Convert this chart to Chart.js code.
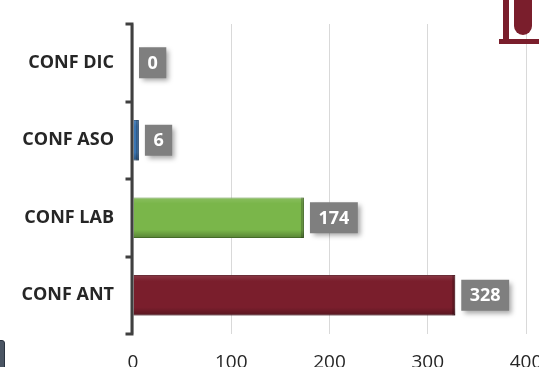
<!DOCTYPE html>
<html lang="en">
<head>
    <meta charset="UTF-8">
    <title>Conflictos</title>
    <script src="https://cdn.jsdelivr.net/npm/chart.js"></script>
    <style>
        body {
            margin: 0;
            width: 539px;
            height: 367px;
            overflow: hidden;
            background: #ffffff;
            position: relative;
        }
        #chart {
            position: absolute;
            left: 0;
            top: 0;
        }
        /* decoration in the corners of the slide */
        .deco { position: absolute; background: #7a1e2c; }
    </style>
</head>
<body>
    <canvas id="chart" width="539" height="367"></canvas>

    <div class="deco" style="left:499px; top:39px; width:40px; height:5px;"></div>
    <div class="deco" style="left:503px; top:0; width:6px; height:40px;"></div>
    <div class="deco" style="left:514px; top:0; width:18px; height:35px; border-radius:0 0 9px 9px;"></div>
    <div style="position:absolute; left:-3px; top:340px; width:6px; height:30px; border:1px solid #2a3340; border-radius:3px; background:#4a5563;"></div>

    <script>
        // data
        const categories = ['CONF DIC', 'CONF ASO', 'CONF LAB', 'CONF ANT'];
        const values = [0, 6, 174, 328];
        const barColors = ['#3b77b5', '#3b77b5', '#7ab64a', '#7a1e2c'];
        const barBorders = ['#2c5a8a', '#2c5a8a', '#5a8c34', '#5a1520'];
        const xTicks = [0, 100, 200, 300, 400];

        // darker bevel on the lower and right edge of each bar
        const bevel = {
            id: 'bevel',
            afterDatasetsDraw(chart) {
                const ctx = chart.ctx;
                const meta = chart.getDatasetMeta(0);
                ctx.save();
                meta.data.forEach((bar) => {
                    const w = bar.x - bar.base;
                    if (w < 1) return;
                    const top = bar.y - bar.height / 2;
                    const g = ctx.createLinearGradient(0, top, 0, top + bar.height);
                    g.addColorStop(0, 'rgba(255,255,255,0.12)');
                    g.addColorStop(0.15, 'rgba(255,255,255,0)');
                    g.addColorStop(0.8, 'rgba(0,0,0,0)');
                    g.addColorStop(1, 'rgba(0,0,0,0.28)');
                    ctx.fillStyle = g;
                    ctx.fillRect(bar.base, top, w, bar.height);
                    ctx.fillStyle = 'rgba(0,0,0,0.22)';
                    ctx.fillRect(bar.x - 3, top, 3, bar.height);
                });
                ctx.restore();
            }
        };

        // gray value boxes to the right of each bar
        const valueBoxes = {
            id: 'valueBoxes',
            afterDatasetsDraw(chart) {
                const ctx = chart.ctx;
                const meta = chart.getDatasetMeta(0);
                ctx.save();
                ctx.font = 'bold 18px "Open Sans", sans-serif';
                meta.data.forEach((bar, i) => {
                    const text = String(values[i]);
                    const w = ctx.measureText(text).width + 17;
                    const h = 31;
                    const x = bar.x + 6;
                    const y = bar.y - h / 2;
                    ctx.shadowColor = 'rgba(0,0,0,0.35)';
                    ctx.shadowBlur = 5;
                    ctx.shadowOffsetX = 3;
                    ctx.shadowOffsetY = 3;
                    ctx.fillStyle = '#7f7f7f';
                    ctx.fillRect(x, y, w, h);
                    ctx.shadowColor = 'transparent';
                    ctx.fillStyle = '#ffffff';
                    ctx.textAlign = 'center';
                    ctx.textBaseline = 'middle';
                    ctx.fillText(text, x + w / 2, y + h / 2 + 1);
                });
                ctx.restore();
            }
        };

        // category axis line with tick marks at the band edges
        const axisTicks = {
            id: 'axisTicks',
            afterDraw(chart) {
                const ctx = chart.ctx;
                const y = chart.scales.y;
                const left = chart.chartArea.left - 1;
                const band = (y.getPixelForValue(1) - y.getPixelForValue(0));
                ctx.save();
                ctx.strokeStyle = '#404040';
                ctx.lineWidth = 3;
                ctx.lineCap = 'square';
                ctx.beginPath();
                for (let i = 0; i <= categories.length; i++) {
                    const py = Math.round(y.getPixelForValue(0) - band / 2 + band * i);
                    ctx.moveTo(left - 5, py);
                    ctx.lineTo(left, py);
                }
                ctx.moveTo(left, chart.chartArea.top);
                ctx.lineTo(left, chart.chartArea.bottom);
                ctx.stroke();
                ctx.restore();
            }
        };

        new Chart(document.getElementById('chart'), {
            type: 'bar',
            data: {
                labels: categories,
                datasets: [{
                    data: values,
                    backgroundColor: barColors,
                    borderColor: barBorders,
                    borderWidth: 1,
                    barPercentage: 0.52,
                    categoryPercentage: 1
                }]
            },
            options: {
                indexAxis: 'y',
                responsive: false,
                animation: false,
                layout: { padding: { left: 0, top: 24, right: 13, bottom: 0 } },
                plugins: {
                    legend: { display: false },
                    tooltip: { enabled: false }
                },
                scales: {
                    x: {
                        min: xTicks[0],
                        max: xTicks[xTicks.length - 1],
                        afterBuildTicks: (axis) => { axis.ticks = xTicks.map(v => ({ value: v })); },
                        afterFit: (axis) => { axis.height = 33; axis.paddingLeft = 0; axis.paddingRight = 0; },
                        grid: { color: '#d9d9d9', drawTicks: false },
                        border: { display: false },
                        ticks: {
                            padding: 17,
                            color: '#262626',
                            font: { family: 'Open Sans', size: 19 }
                        }
                    },
                    y: {
                        afterFit: (axis) => { axis.width = 133; },
                        grid: { display: false },
                        border: { display: false },
                        ticks: {
                            padding: 11,
                            color: '#262626',
                            font: { family: 'Open Sans', size: 18, weight: 'bold' }
                        }
                    }
                }
            },
            plugins: [bevel, valueBoxes, axisTicks]
        });
    </script>
</body>
</html>
